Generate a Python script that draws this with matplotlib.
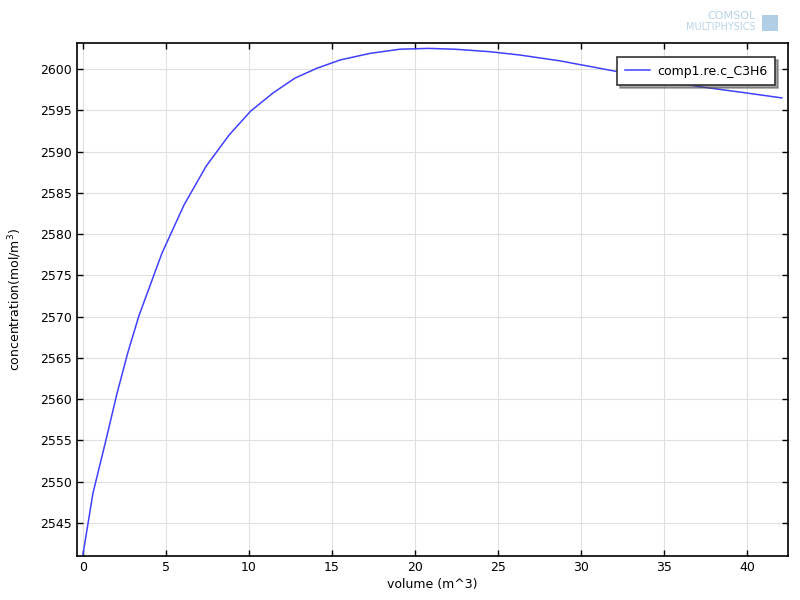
import matplotlib
matplotlib.use('Agg')
import matplotlib.pyplot as plt
from matplotlib.patches import Rectangle

# volume (m^3) vs concentration (mol/m^3)
volume = [0.0, 0.6, 1.39, 2.05, 2.71, 3.37, 4.76, 6.08, 7.41, 8.8, 10.1,
          11.45, 12.77, 14.1, 15.5, 17.3, 19.1, 20.8, 22.4, 24.5, 26.3,
          28.7, 31.1, 34.0, 37.0, 39.6, 42.1]
conc = [2541.2, 2548.6, 2555.1, 2560.7, 2565.7, 2570.1, 2577.7, 2583.5,
        2588.2, 2592.0, 2594.9, 2597.1, 2598.9, 2600.1, 2601.1, 2601.9,
        2602.4, 2602.5, 2602.4, 2602.1, 2601.7, 2601.0, 2600.1, 2599.0,
        2597.9, 2597.2, 2596.5]

plt.rcParams['font.family'] = 'DejaVu Sans'

fig = plt.figure(figsize=(8, 6), dpi=100)
ax = fig.add_axes([0.09625, 0.0733, 0.88875, 0.855])

ax.plot(volume, conc, color='#4040ff', linewidth=1.1, label='comp1.re.c_C3H6')

ax.set_xlim(-0.36, 42.47)
ax.set_ylim(2541.0, 2603.15)
ax.set_xticks(range(0, 45, 5))
ax.set_yticks(range(2545, 2605, 5))
ax.grid(True, color='#e0e0e0', linewidth=0.8)
ax.set_axisbelow(True)
ax.tick_params(direction='in', top=True, right=True, labelsize=9, length=4, width=1)
for s in ax.spines.values():
    s.set_linewidth(1.2)

ax.set_xlabel('volume (m^3)', fontsize=9, labelpad=3)
ax.set_ylabel('concentration(mol/m$^3$)', fontsize=9, labelpad=12)

leg = ax.legend(loc='upper right', bbox_to_anchor=(0.9817, 0.9727), fontsize=9,
                fancybox=False, shadow=True, edgecolor='#333333', framealpha=1,
                handlelength=2.0, handletextpad=0.6, borderpad=0.6,
                borderaxespad=0)
leg.get_frame().set_linewidth(1.2)

# logo in the top right corner
fig.text(0.945, 0.973, 'COMSOL', color='#b8d4e8', fontsize=8, ha='right', va='center')
fig.text(0.945, 0.955, 'MULTIPHYSICS', color='#b8d4e8', fontsize=7, ha='right', va='center')
fig.patches.append(Rectangle((0.953, 0.948), 0.02, 0.027, transform=fig.transFigure,
                             facecolor='#9cc4e0', edgecolor='none', alpha=0.8))

fig.savefig('out.png', dpi=100)
